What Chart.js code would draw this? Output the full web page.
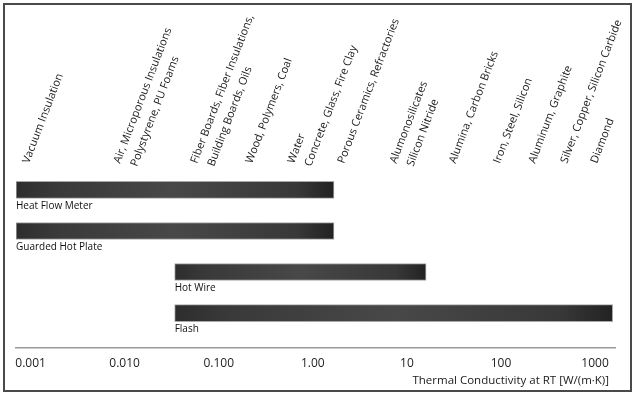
<!DOCTYPE html>
<html>
<head>
<meta charset="utf-8">
<script src="https://cdn.jsdelivr.net/npm/chart.js@4/dist/chart.umd.min.js"></script>
<style>
  html, body { margin: 0; padding: 0; background: #ffffff; }
  #wrap { position: relative; width: 635px; height: 394px; }
</style>
</head>
<body>
<div id="wrap"><canvas id="chart" width="635" height="394"></canvas></div>
<script>
// Measurement methods and their usable thermal conductivity ranges, W/(m·K)
const methods = ["Heat Flow Meter", "Guarded Hot Plate", "Hot Wire", "Flash"];
const rangeLow = [0.0007, 0.0007, 0.034, 0.034];
const rangeHigh = [1.68, 1.68, 16, 1540];

// Typical materials and where they sit on the conductivity scale
const materialLabels = [
  ["Vacuum Insulation"],
  ["Air, Microporous Insulations", "Polystyrene, PU Foams"],
  ["Fiber Boards, Fiber Insulations,", "Building Boards, Oils"],
  ["Wood, Polymers, Coal"],
  ["Water", "Concrete, Glass, Fire Clay"],
  ["Porous Ceramics, Refractories"],
  ["Alumonosilicates", "Silicon Nitride"],
  ["Alumina, Carbon Bricks"],
  ["Iron, Steel, Silicon"],
  ["Aluminum, Graphite"],
  ["Silver, Copper, Silicon Carbide"],
  ["Diamond"]
];
const materialConductivity = [0.00085, 0.0079, 0.052, 0.20, 0.56, 1.9, 6.8, 29, 86, 203, 445, 927];

// Axis ticks
const tickValues = [0.001, 0.01, 0.1, 1, 10, 100, 1000];
const tickLabels = ["0.001", "0.010", "0.100", "1.00", "10", "100", "1000"];
const axisTitle = "Thermal Conductivity at RT [W/(m\u00B7K)]";

const FONT = "'Open Sans', 'Noto Sans', sans-serif";

function barGradient(context) {
  const chart = context.chart;
  const i = context.dataIndex;
  if (!chart.chartArea || i === undefined) return "#3c3c3c";
  const xs = chart.scales.x;
  const x0 = xs.getPixelForValue(rangeLow[i]);
  const x1 = xs.getPixelForValue(rangeHigh[i]);
  const g = chart.ctx.createLinearGradient(x0, 0, x1, 0);
  g.addColorStop(0, "#2d2d2d");
  g.addColorStop(0.12, "#393939");
  g.addColorStop(0.5, "#484848");
  g.addColorStop(0.88, "#383838");
  g.addColorStop(1, "#222222");
  return g;
}

// Frame around the whole figure
const framePlugin = {
  id: "frame",
  afterDraw(chart) {
    const c = chart.ctx;
    c.save();
    c.strokeStyle = "#4a4a4a";
    c.lineWidth = 2;
    c.strokeRect(4, 4, 627, 387);
    c.restore();
  }
};

// Axis title under the tick labels, right aligned
const axisTitlePlugin = {
  id: "axisTitle",
  afterDraw(chart) {
    const c = chart.ctx;
    c.save();
    c.font = "11.5px " + FONT;
    c.fillStyle = "#1a1a1a";
    c.textAlign = "right";
    c.textBaseline = "middle";
    c.fillText(axisTitle, chart.chartArea.right - 6, 381);
    c.restore();
  }
};

// Method names under each bar, aligned to the bar start
const methodLabelPlugin = {
  id: "methodLabels",
  afterDatasetsDraw(chart) {
    const c = chart.ctx;
    const xs = chart.scales.x, ys = chart.scales.y;
    c.save();
    c.font = "10px " + FONT;
    c.fillStyle = "#111111";
    c.textAlign = "left";
    c.textBaseline = "middle";
    methods.forEach((m, i) => {
      const x = Math.max(xs.getPixelForValue(rangeLow[i]), chart.chartArea.left);
      const y = ys.getPixelForValue(i) + 16;
      c.fillText(m, x, y);
    });
    c.restore();
  }
};

// Rotated material names above the plot, anchored at their conductivity
const materialPlugin = {
  id: "materials",
  afterDraw(chart) {
    const c = chart.ctx;
    const xs = chart.scales.x;
    const angle = -69 * Math.PI / 180;
    c.save();
    c.font = "11px " + FONT;
    c.fillStyle = "#1a1a1a";
    c.textAlign = "left";
    c.textBaseline = "alphabetic";
    materialLabels.forEach((lines, i) => {
      const x = xs.getPixelForValue(materialConductivity[i]) + 5;
      lines.forEach((line, j) => {
        c.save();
        c.translate(x + j * 17, 164 + j * 3);
        c.rotate(angle);
        c.fillText(line, 0, 0);
        c.restore();
      });
    });
    c.restore();
  }
};

new Chart(document.getElementById("chart"), {
  type: "bar",
  data: {
    datasets: [{
      data: methods.map((m, i) => ({ y: i, x: [rangeLow[i], rangeHigh[i]] })),
      backgroundColor: barGradient,
      borderColor: "#a8a8a8",
      borderWidth: 1,
      borderSkipped: false,
      barThickness: 17
    }]
  },
  options: {
    indexAxis: "y",
    responsive: false,
    animation: false,
    layout: { padding: { left: 16, right: 20, top: 171, bottom: 14 } },
    plugins: { legend: { display: false }, tooltip: { enabled: false } },
    scales: {
      y: {
        type: "linear",
        display: false,
        offset: false,
        reverse: true,
        min: -0.46,
        max: 3.84
      },
      x: {
        type: "logarithmic",
        min: 0.0007,
        max: 1630,
        grid: { display: false, drawTicks: false },
        border: { display: true, color: "#9a9a9a", width: 1.5 },
        afterBuildTicks(scale) {
          scale.ticks = tickValues.map(v => ({ value: v }));
        },
        ticks: {
          autoSkip: false,
          maxRotation: 0,
          padding: 9,
          color: "#222222",
          font: { family: FONT, size: 12 },
          callback: (v, idx) => tickLabels[idx]
        },
        title: { display: false }
      }
    }
  },
  plugins: [framePlugin, axisTitlePlugin, methodLabelPlugin, materialPlugin]
});
</script>
</body>
</html>
